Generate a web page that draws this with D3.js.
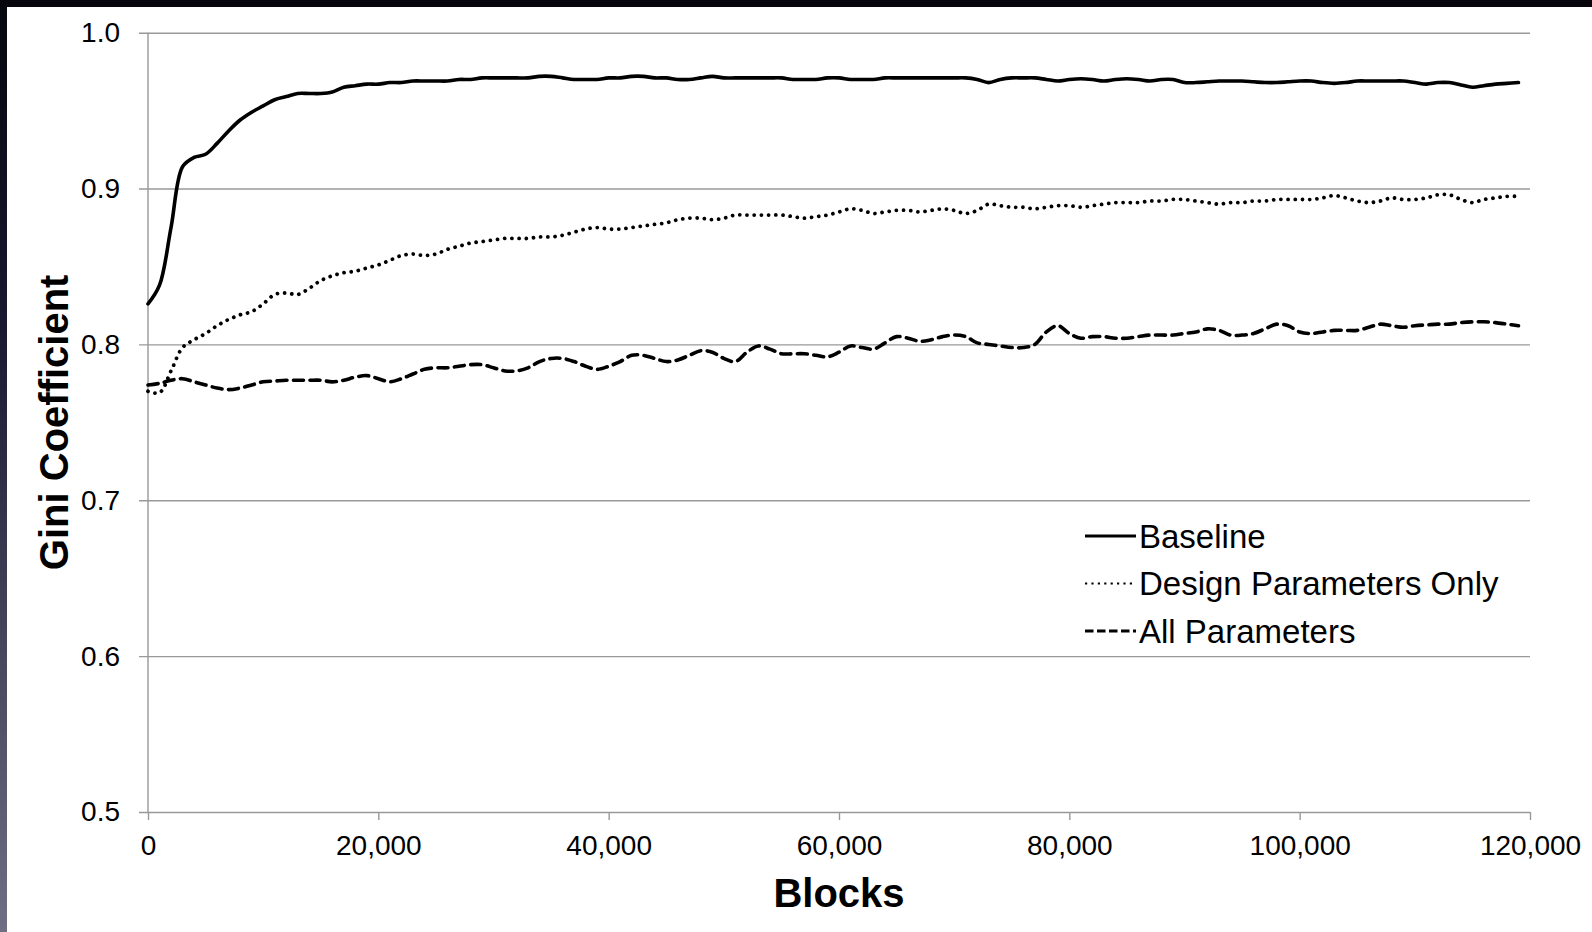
<!DOCTYPE html>
<html>
<head>
<meta charset="utf-8">
<script src="https://cdn.jsdelivr.net/npm/d3@7"></script>
<style>
  html, body { margin: 0; padding: 0; background: #ffffff; }
  svg { display: block; font-family: "Liberation Sans", Arial, sans-serif; }
</style>
</head>
<body>
<svg id="chart" width="1592" height="932"></svg>
<script>
// Blocks mined (x values), one sample every 1,000 blocks
const blocks = [
  0,1000,2000,3000,4000,5000,6000,7000,8000,9000,
  10000,11000,12000,13000,14000,15000,16000,17000,18000,19000,
  20000,21000,22000,23000,24000,25000,26000,27000,28000,29000,
  30000,31000,32000,33000,34000,35000,36000,37000,38000,39000,
  40000,41000,42000,43000,44000,45000,46000,47000,48000,49000,
  50000,51000,52000,53000,54000,55000,56000,57000,58000,59000,
  60000,61000,62000,63000,64000,65000,66000,67000,68000,69000,
  70000,71000,72000,73000,74000,75000,76000,77000,78000,79000,
  80000,81000,82000,83000,84000,85000,86000,87000,88000,89000,
  90000,91000,92000,93000,94000,95000,96000,97000,98000,99000,
  100000,101000,102000,103000,104000,105000,106000,107000,108000,109000,
  110000,111000,112000,113000,114000,115000,116000,117000,118000,119000
];

// Gini coefficient, Baseline
const baseline = [
  0.826,0.838,0.875,0.914,0.920,0.922,0.929,0.937,0.944,0.949,
  0.953,0.957,0.959,0.961,0.961,0.961,0.962,0.965,0.966,0.967,
  0.967,0.968,0.968,0.969,0.969,0.969,0.969,0.970,0.970,0.971,
  0.971,0.971,0.971,0.971,0.972,0.972,0.971,0.970,0.970,0.970,
  0.971,0.971,0.972,0.972,0.971,0.971,0.970,0.970,0.971,0.972,
  0.971,0.971,0.971,0.971,0.971,0.971,0.970,0.970,0.970,0.971,
  0.971,0.970,0.970,0.970,0.971,0.971,0.971,0.971,0.971,0.971,
  0.971,0.971,0.970,0.968,0.970,0.971,0.971,0.971,0.970,0.969,
  0.970,0.9705,0.970,0.969,0.970,0.9705,0.970,0.969,0.970,0.970,
  0.968,0.968,0.9685,0.969,0.969,0.969,0.9685,0.968,0.968,0.9685,
  0.969,0.969,0.968,0.9675,0.968,0.969,0.969,0.969,0.969,0.969,
  0.968,0.967,0.968,0.968,0.9665,0.965,0.966,0.967,0.9675,0.968
];

// Gini coefficient, Design Parameters Only
const designOnly = [
  0.770,0.769,0.783,0.798,0.803,0.807,0.812,0.816,0.819,0.821,
  0.826,0.832,0.833,0.832,0.836,0.841,0.844,0.846,0.847,0.849,
  0.851,0.854,0.857,0.858,0.857,0.858,0.861,0.863,0.865,0.866,
  0.867,0.868,0.868,0.868,0.869,0.869,0.870,0.872,0.874,0.875,
  0.874,0.874,0.875,0.876,0.877,0.878,0.880,0.881,0.881,0.880,
  0.881,0.883,0.883,0.883,0.883,0.883,0.882,0.881,0.882,0.883,
  0.885,0.887,0.886,0.884,0.885,0.886,0.886,0.885,0.886,0.887,
  0.886,0.884,0.886,0.890,0.889,0.888,0.888,0.887,0.888,0.889,
  0.889,0.888,0.889,0.890,0.891,0.891,0.891,0.892,0.892,0.893,
  0.893,0.892,0.891,0.890,0.891,0.891,0.892,0.892,0.893,0.893,
  0.893,0.893,0.894,0.8955,0.894,0.892,0.891,0.892,0.894,0.893,
  0.893,0.894,0.896,0.896,0.893,0.891,0.893,0.894,0.895,0.895
];

// Gini coefficient, All Parameters
const allParams = [
  0.774,0.775,0.777,0.778,0.776,0.774,0.772,0.771,0.772,0.774,
  0.776,0.7765,0.777,0.777,0.777,0.777,0.776,0.777,0.779,0.780,
  0.778,0.776,0.778,0.781,0.784,0.785,0.785,0.786,0.787,0.787,
  0.785,0.783,0.783,0.785,0.789,0.791,0.791,0.789,0.786,0.784,
  0.786,0.789,0.793,0.793,0.791,0.789,0.790,0.793,0.796,0.795,
  0.791,0.789,0.795,0.799,0.797,0.794,0.794,0.794,0.793,0.792,
  0.795,0.799,0.798,0.797,0.801,0.805,0.804,0.802,0.803,0.805,
  0.806,0.805,0.801,0.800,0.799,0.798,0.798,0.800,0.808,0.812,
  0.807,0.804,0.805,0.805,0.804,0.804,0.805,0.806,0.806,0.806,
  0.807,0.808,0.810,0.809,0.806,0.806,0.807,0.810,0.813,0.812,
  0.808,0.807,0.808,0.809,0.809,0.809,0.811,0.813,0.812,0.811,
  0.812,0.8125,0.813,0.813,0.814,0.8145,0.8145,0.814,0.813,0.812
];

const seriesNames = ["Baseline", "Design Parameters Only", "All Parameters"];
const yTicks = [0.5, 0.6, 0.7, 0.8, 0.9, 1.0];
const xTicks = [0, 20000, 40000, 60000, 80000, 100000, 120000];

const svg = d3.select("#chart");
const W = 1592, H = 932;
const plotLeft = 148, plotRight = 1530, plotTop = 32.7, plotBottom = 812;

// window frame: dark strip along the top and a shaded strip down the left edge
const defs = svg.append("defs");
const grad = defs.append("linearGradient").attr("id", "edge")
  .attr("x1", 0).attr("y1", 0).attr("x2", 0).attr("y2", 1);
grad.append("stop").attr("offset", "0%").attr("stop-color", "#06060e");
grad.append("stop").attr("offset", "35%").attr("stop-color", "#181830");
grad.append("stop").attr("offset", "100%").attr("stop-color", "#6e6e84");
svg.append("rect").attr("x", 0).attr("y", 0).attr("width", W).attr("height", H).attr("fill", "#ffffff");
svg.append("rect").attr("x", 0).attr("y", 0).attr("width", 7).attr("height", H).attr("fill", "url(#edge)");
svg.append("rect").attr("x", 0).attr("y", 0).attr("width", W).attr("height", 7).attr("fill", "#06060c");

const x = d3.scaleLinear().domain([0, 120000]).range([plotLeft, plotRight]);
const y = d3.scaleLinear().domain([0.5, 1.0]).range([plotBottom, plotTop]);

const gridColor = "#999999";
const fontFamily = '"Liberation Sans", Arial, sans-serif';

// horizontal gridlines with short ticks left of the axis
const yAxis = svg.append("g")
  .attr("transform", `translate(${plotLeft - 9},0)`)
  .call(d3.axisLeft(y).tickValues(yTicks).tickFormat(d3.format(".1f"))
    .tickSize(-(plotRight - plotLeft + 9)).tickPadding(19));
yAxis.select(".domain").remove();
yAxis.selectAll(".tick line").attr("stroke", gridColor).attr("stroke-width", 1.4);
yAxis.selectAll(".tick text").attr("font-size", 28).attr("fill", "#000")
  .attr("font-family", fontFamily);

// x axis ticks and labels
const xAxis = svg.append("g")
  .attr("transform", `translate(0,${plotBottom})`)
  .call(d3.axisBottom(x).tickValues(xTicks).tickFormat(d3.format(","))
    .tickSizeInner(8).tickSizeOuter(0).tickPadding(15));
xAxis.select(".domain").remove();
xAxis.selectAll(".tick line").attr("stroke", gridColor).attr("stroke-width", 1.4);
xAxis.selectAll(".tick text").attr("font-size", 28).attr("fill", "#000")
  .attr("font-family", fontFamily);

// vertical axis line
svg.append("line")
  .attr("x1", x(0)).attr("x2", x(0)).attr("y1", y(1.0)).attr("y2", y(0.5))
  .attr("stroke", gridColor).attr("stroke-width", 1.4);

// axis titles
svg.append("text")
  .attr("x", (plotLeft + plotRight) / 2).attr("y", 907)
  .attr("text-anchor", "middle").attr("font-size", 40).attr("font-weight", "bold")
  .attr("fill", "#000").text("Blocks");
svg.append("text")
  .attr("transform", `translate(68,${(plotTop + plotBottom) / 2}) rotate(-90)`)
  .attr("text-anchor", "middle").attr("font-size", 40).attr("font-weight", "bold")
  .attr("fill", "#000").text("Gini Coefficient");

// series lines
const styles = [
  { width: 3.6, dash: null, cap: "round" },
  { width: 3.8, dash: "0.01,7.2", cap: "round" },
  { width: 3.6, dash: "10,6.5", cap: "round" }
];
const seriesValues = [baseline, designOnly, allParams];

const line = d3.line()
  .x(d => x(d[0]))
  .y(d => y(d[1]))
  .curve(d3.curveCatmullRom.alpha(0.5));

seriesValues.forEach((vals, i) => {
  const pts = blocks.map((b, j) => [b, vals[j]]);
  svg.append("path")
    .datum(pts)
    .attr("d", line)
    .attr("fill", "none")
    .attr("stroke", "#000")
    .attr("stroke-width", styles[i].width)
    .attr("stroke-linecap", styles[i].cap)
    .attr("stroke-linejoin", "round")
    .attr("stroke-dasharray", styles[i].dash);
});

// legend
const legendRows = [
  { lineY: 536, width: 3, dash: null },
  { lineY: 583.5, width: 2.2, dash: "2.2,4.2" },
  { lineY: 631, width: 3, dash: "8.5,3.5" }
];
const legendFont = 33;
const legend = svg.append("g");
seriesNames.forEach((name, i) => {
  const r = legendRows[i];
  legend.append("line")
    .attr("x1", 1085).attr("x2", 1136).attr("y1", r.lineY).attr("y2", r.lineY)
    .attr("stroke", "#000").attr("stroke-width", r.width)
    .attr("stroke-dasharray", r.dash);
  legend.append("text")
    .attr("x", 1139).attr("y", r.lineY + legendFont * 0.358)
    .attr("font-size", legendFont).attr("fill", "#000").text(name);
});
</script>
</body>
</html>
